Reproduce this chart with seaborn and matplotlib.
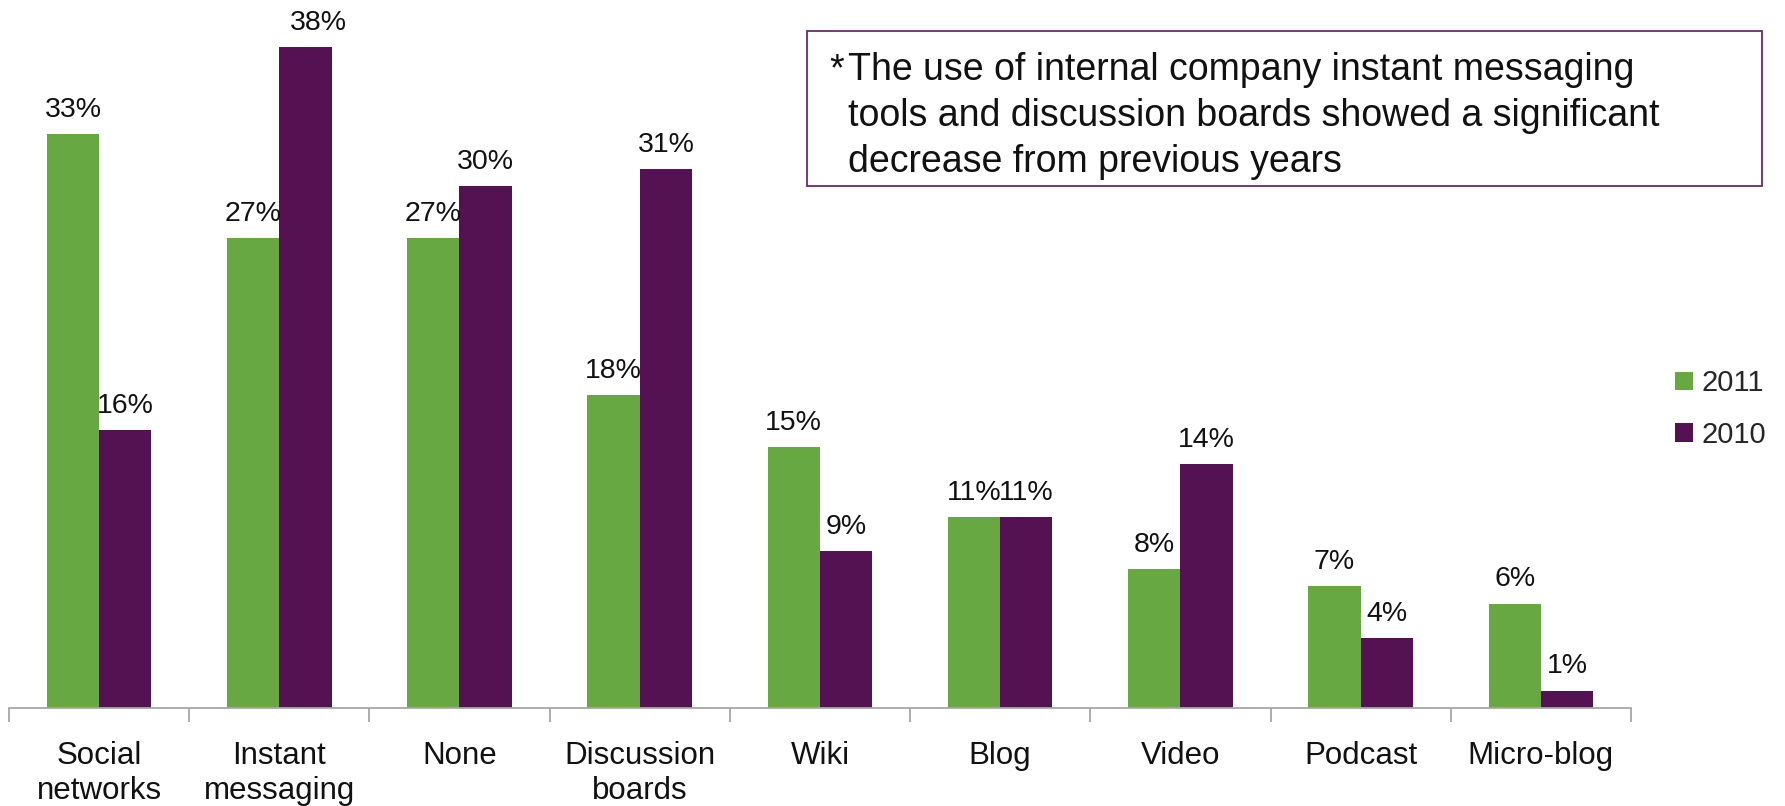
import matplotlib
matplotlib.use("Agg")
import matplotlib.pyplot as plt
from matplotlib.patches import Rectangle
import seaborn as sns
import pandas as pd

categories = ["Social\nnetworks", "Instant\nmessaging", "None", "Discussion\nboards",
              "Wiki", "Blog", "Video", "Podcast", "Micro-blog"]
values_2011 = [33, 27, 27, 18, 15, 11, 8, 7, 6]
values_2010 = [16, 38, 30, 31, 9, 11, 14, 4, 1]
years = ["2011", "2010"]
note_lines = ["The use of internal company instant messaging",
              "tools and discussion boards showed a significant",
              "decrease from previous years"]

GREEN = "#67A843"
PURPLE = "#551252"
TEXT = "#111111"

sns.set_theme(style="white")
plt.rcParams["font.family"] = ["Liberation Sans", "DejaVu Sans"]

df = pd.DataFrame({
    "category": categories * 2,
    "value": values_2011 + values_2010,
    "year": [years[0]] * len(categories) + [years[1]] * len(categories),
})

W, H = 1785, 806
fig = plt.figure(figsize=(W / 100, H / 100), dpi=100)
ax = fig.add_axes([0.005, 0.1216, 0.9087, 0.8634])

sns.barplot(data=df, x="category", y="value", hue="year", hue_order=years,
            palette=[GREEN, PURPLE], width=0.58, saturation=1, ax=ax,
            errorbar=None, linewidth=0)

top = max(values_2011 + values_2010)
for cont, vals in zip(ax.containers, [values_2011, values_2010]):
    anns = ax.bar_label(cont, labels=[f"{v}%" for v in vals], padding=8,
                        fontsize=20.5, color=TEXT)
    # nudge the label of the tallest bar slightly to the right
    for ann, v in zip(anns, vals):
        if v == top:
            ann.xyann = (9, 8)

ax.set_ylim(0, 40)
ax.set_xlim(-0.5, len(categories) - 0.5)
ax.set_xlabel("")
ax.set_ylabel("")
ax.set_yticks([])

for s in ["top", "right", "left"]:
    ax.spines[s].set_visible(False)
ax.spines["bottom"].set_color("#A6A6A6")
ax.spines["bottom"].set_linewidth(1.3)

# category labels centred under each pair, tick marks on the boundaries
ax.set_xticks(range(len(categories)))
ax.set_xticklabels(categories, fontsize=22.5, color=TEXT, linespacing=1.2)
ax.set_xticks([i - 0.5 for i in range(len(categories) + 1)], minor=True)
ax.tick_params(axis="x", which="major", length=0, pad=24)
ax.tick_params(axis="x", which="minor", length=10, width=1.3, color="#A6A6A6",
               bottom=True)

handles, labels = ax.get_legend_handles_labels()
ax.legend(handles, labels, loc="center left",
          bbox_to_anchor=(1675 / W, 1 - 409 / H),
          bbox_transform=fig.transFigure, frameon=False, fontsize=21,
          handlelength=0.6, handleheight=0.6, handletextpad=0.3, labelspacing=0.8,
          borderpad=0, borderaxespad=0)

# note box
fig.patches.append(Rectangle((807 / W, 1 - 186 / H), (1762 - 807) / W, (186 - 31) / H,
                             transform=fig.transFigure, fill=False,
                             edgecolor="#6B2A68", linewidth=1.3))
line_y = [70, 116, 162]
fig.text(829 / W, 1 - line_y[0] / H, "*", fontsize=27, color=TEXT, va="center", ha="left")
for y, line in zip(line_y, note_lines):
    fig.text(848 / W, 1 - y / H, line, fontsize=27, color=TEXT,
             va="center", ha="left")

fig.savefig("out.png", dpi=100)
